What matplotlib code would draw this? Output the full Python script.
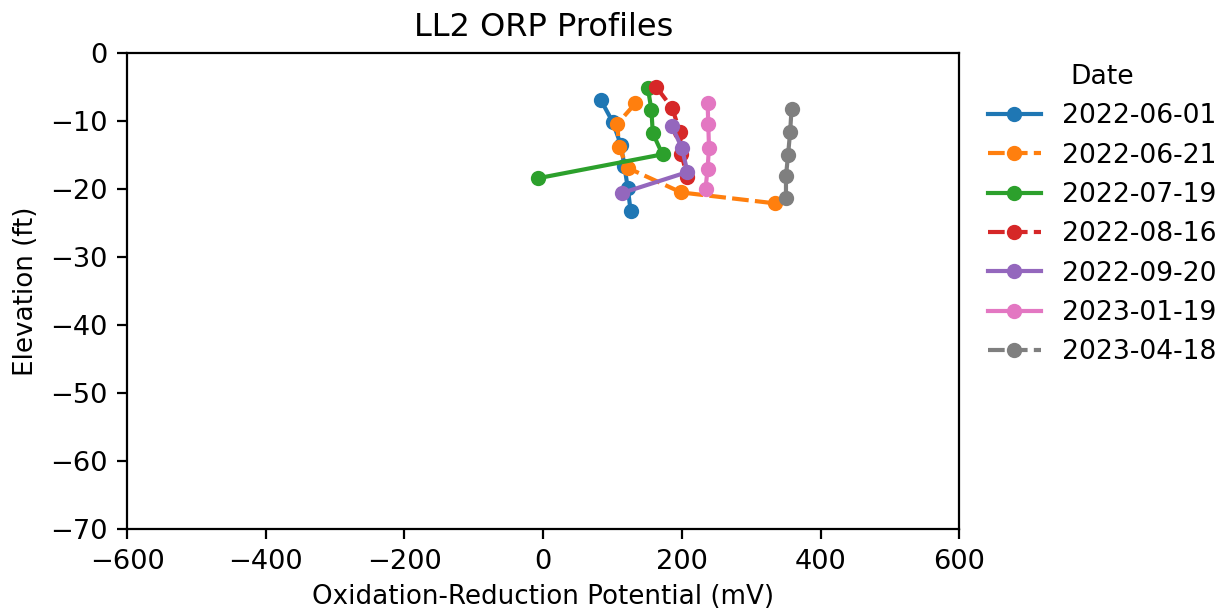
import matplotlib
matplotlib.use('Agg')
import matplotlib.pyplot as plt

# ORP profiles per sampling date: (ORP in mV, elevation in ft)
dates = ['2022-06-01', '2022-06-21', '2022-07-19', '2022-08-16',
         '2022-09-20', '2023-01-19', '2023-04-18']

orp_0601 = [83, 100, 112, 117, 122, 126]
elev_0601 = [-6.9, -10.1, -13.5, -16.6, -19.9, -23.2]

orp_0621 = [133, 107, 109, 122, 199, 334]
elev_0621 = [-7.4, -10.4, -13.8, -16.9, -20.5, -22.1]

orp_0719 = [151, 156, 158, 172, -7]
elev_0719 = [-5.2, -8.4, -11.8, -14.9, -18.4]

orp_0816 = [163, 186, 197, 199, 208]
elev_0816 = [-5.0, -8.1, -11.6, -14.8, -18.3]

orp_0920 = [186, 200, 208, 113]
elev_0920 = [-10.8, -14.0, -17.5, -20.6]

orp_0119 = [237, 238, 239, 237, 234]
elev_0119 = [-7.3, -10.5, -13.9, -17.0, -20.0]

orp_0418 = [358, 356, 353, 350, 350]
elev_0418 = [-8.3, -11.6, -15.0, -18.1, -21.3]

orp_series = [orp_0601, orp_0621, orp_0719, orp_0816, orp_0920, orp_0119, orp_0418]
elev_series = [elev_0601, elev_0621, elev_0719, elev_0816, elev_0920, elev_0119, elev_0418]
dashed = [False, True, False, True, False, False, True]

colors = ['#1f77b4', '#ff7f0e', '#2ca02c', '#d62728', '#9467bd', '#e377c2', '#7f7f7f']

fig = plt.figure(figsize=(6.12, 3.045), dpi=200)
ax = fig.add_axes([0.1038, 0.131, 0.680, 0.782])

for date, x, y, c, d in zip(dates, orp_series, elev_series, colors, dashed):
    ls = (0, (4, 1.5)) if d else '-'
    ax.plot(x, y, color=c, linestyle=ls, marker='o', markersize=4.5,
            linewidth=1.5, label=date)

ax.set_xlim(-600, 600)
ax.set_ylim(-70, 0)
ax.tick_params(labelsize=9.8)
ax.set_title('LL2 ORP Profiles', fontsize=11.5, pad=6)
ax.set_xlabel('Oxidation-Reduction Potential (mV)', fontsize=9.4, labelpad=3.5)
ax.set_ylabel('Elevation (ft)', fontsize=9.4)

leg = ax.legend(title='Date', loc='upper left', bbox_to_anchor=(1.005, 1.027),
                frameon=False, fontsize=9.6, title_fontsize=9.6)

fig.savefig('out.png', dpi=200)
